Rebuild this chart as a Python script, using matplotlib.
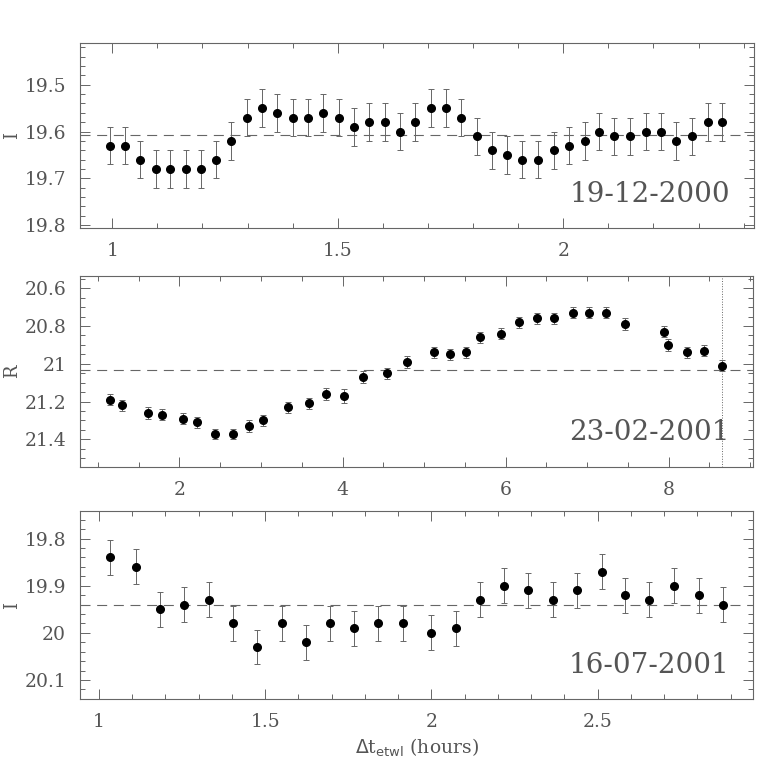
import numpy as np
import matplotlib
matplotlib.use('Agg')
import matplotlib.pyplot as plt
from matplotlib.ticker import MultipleLocator, FixedLocator, FixedFormatter

# 1. data
t1 = [0.995, 1.028, 1.062, 1.096, 1.129, 1.164, 1.197, 1.230, 1.264, 1.298,
      1.332, 1.366, 1.400, 1.434, 1.468, 1.502, 1.536, 1.570, 1.604, 1.638,
      1.672, 1.706, 1.740, 1.774, 1.808, 1.842, 1.876, 1.908, 1.943, 1.979,
      2.013, 2.048, 2.080, 2.113, 2.149, 2.183, 2.217, 2.251, 2.285, 2.320,
      2.353]
m1 = [19.63, 19.63, 19.66, 19.68, 19.68, 19.68, 19.68, 19.66, 19.62, 19.57,
      19.55, 19.56, 19.57, 19.57, 19.56, 19.57, 19.59, 19.58, 19.58, 19.60,
      19.58, 19.55, 19.55, 19.57, 19.61, 19.64, 19.65, 19.66, 19.66, 19.64,
      19.63, 19.62, 19.60, 19.61, 19.61, 19.60, 19.60, 19.62, 19.61, 19.58,
      19.58]
e1 = [0.04] * len(m1)
mean1 = 19.608

t2 = [1.15, 1.30, 1.61, 1.79, 2.04, 2.22, 2.43, 2.66, 2.85, 3.03,
      3.33, 3.59, 3.80, 4.02, 4.25, 4.54, 4.79, 5.12, 5.32, 5.51,
      5.69, 5.95, 6.16, 6.38, 6.60, 6.83, 7.03, 7.23, 7.47, 7.95,
      7.99, 8.22, 8.44, 8.65]
m2 = [21.19, 21.22, 21.26, 21.27, 21.29, 21.31, 21.37, 21.37, 21.33, 21.30,
      21.23, 21.21, 21.16, 21.17, 21.07, 21.05, 20.99, 20.94, 20.95, 20.94,
      20.86, 20.84, 20.78, 20.76, 20.76, 20.73, 20.73, 20.73, 20.79, 20.83,
      20.90, 20.94, 20.93, 21.01]
e2 = [0.03, 0.03, 0.03, 0.03, 0.03, 0.03, 0.027, 0.027, 0.03, 0.03,
      0.03, 0.03, 0.03, 0.035, 0.03, 0.03, 0.03, 0.03, 0.03, 0.03,
      0.03, 0.03, 0.03, 0.03, 0.03, 0.03, 0.03, 0.03, 0.03, 0.03,
      0.03, 0.03, 0.03, 0.03]
mean2 = 21.035
tcut2 = 8.65

t3 = [1.033, 1.110, 1.183, 1.257, 1.332, 1.403, 1.476, 1.549, 1.622, 1.695,
      1.767, 1.840, 1.913, 1.998, 2.074, 2.146, 2.218, 2.291, 2.364, 2.439,
      2.512, 2.583, 2.655, 2.729, 2.804, 2.876]
m3 = [19.84, 19.86, 19.95, 19.94, 19.93, 19.98, 20.03, 19.98, 20.02, 19.98,
      19.99, 19.98, 19.98, 20.00, 19.99, 19.93, 19.90, 19.91, 19.93, 19.91,
      19.87, 19.92, 19.93, 19.90, 19.92, 19.94]
e3 = [0.037] * len(m3)
mean3 = 19.94

dates = ['19-12-2000', '23-02-2001', '16-07-2001']
bands = ['I', 'R', 'I']
yticks1 = [19.5, 19.6, 19.7, 19.8]
ylabels1 = ['19.5', '19.6', '19.7', '19.8']
yticks2 = [20.6, 20.8, 21.0, 21.2, 21.4]
ylabels2 = ['20.6', '20.8', '21', '21.2', '21.4']
yticks3 = [19.8, 19.9, 20.0, 20.1]
ylabels3 = ['19.8', '19.9', '20', '20.1']
xticks1 = [1, 1.5, 2]
xlabels1 = ['1', '1.5', '2']
xticks2 = [2, 4, 6, 8]
xlabels2 = ['2', '4', '6', '8']
xticks3 = [1, 1.5, 2, 2.5]
xlabels3 = ['1', '1.5', '2', '2.5']

plt.rcParams['font.family'] = ['DejaVu Serif']
txtc = '#555555'
linec = '#666666'

fig = plt.figure(figsize=(7.71, 7.71), dpi=100)
ax1 = fig.add_axes([0.1038, 0.7039, 0.8742, 0.2407])
ax2 = fig.add_axes([0.1038, 0.3947, 0.8733, 0.2473])
ax3 = fig.add_axes([0.1038, 0.0930, 0.8733, 0.2446])

panels = [
    (ax1, t1, m1, e1, mean1, (0.9285, 2.423), (19.807, 19.41), yticks1, ylabels1, xticks1, xlabels1, 0.1, 0.02),
    (ax2, t2, m2, e2, mean2, (0.78, 9.04), (21.545, 20.535), yticks2, ylabels2, xticks2, xlabels2, 0.5, 0.05),
    (ax3, t3, m3, e3, mean3, (0.943, 2.968), (20.141, 19.741), yticks3, ylabels3, xticks3, xlabels3, 0.1, 0.02),
]

for i, (ax, t, m, e, mean, xl, yl, yt, ytl, xt, xtl, xmin, ymin) in enumerate(panels):
    ax.errorbar(t, m, yerr=e, fmt='o', color='black', ms=5.5,
                ecolor=linec, elinewidth=0.7, capsize=2.3, capthick=0.7, zorder=3)
    ax.axhline(mean, color=linec, lw=0.8, ls=(0, (9, 6)), zorder=1)
    ax.set_xlim(*xl)
    ax.set_ylim(*yl)
    ax.yaxis.set_major_locator(FixedLocator(yt))
    ax.yaxis.set_major_formatter(FixedFormatter(ytl))
    ax.xaxis.set_major_locator(FixedLocator(xt))
    ax.xaxis.set_major_formatter(FixedFormatter(xtl))
    ax.xaxis.set_minor_locator(MultipleLocator(xmin))
    ax.yaxis.set_minor_locator(MultipleLocator(ymin))
    ax.tick_params(which='both', direction='in', top=True, right=True,
                   color=linec, width=0.7, labelcolor=txtc, labelsize=13.5)
    ax.tick_params(which='major', length=7, pad=10)
    ax.tick_params(which='minor', length=3.5)
    for sp in ax.spines.values():
        sp.set_color(linec)
        sp.set_linewidth(0.8)
    ax.set_ylabel(bands[i], color=txtc, fontsize=13)
    ax.yaxis.set_label_coords(-0.088, 0.5)
    ax.text(0.965, 0.18, dates[i], transform=ax.transAxes, ha='right', va='center',
            fontsize=20, color=txtc)

ax2.axvline(tcut2, color=linec, lw=0.7, ls=':')

ax3.set_xlabel(r'$\Delta$t$_{\rm etwl}$ (hours)', color=txtc, fontsize=13.5, labelpad=4)

fig.savefig('out.png', dpi=100)
